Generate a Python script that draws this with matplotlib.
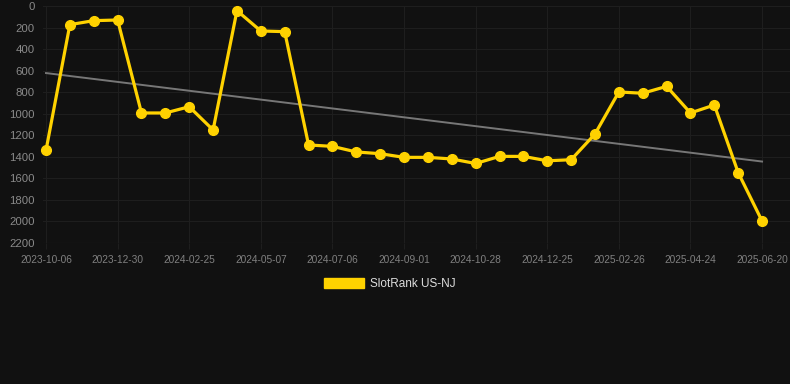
import numpy as np
import matplotlib
matplotlib.use("Agg")
import matplotlib.pyplot as plt
from matplotlib.patches import Patch

# SlotRank values (lower is better, axis inverted), one point per period
rank = [1340, 173, 136, 130, 993, 993, 935, 1151, 43, 232, 238,
        1290, 1303, 1355, 1371, 1405, 1405, 1420, 1462, 1396, 1396,
        1437, 1427, 1188, 798, 810, 746, 993, 919, 1547, 1996]
tick_labels = ["2023-10-06", "2023-12-30", "2024-02-25", "2024-05-07",
               "2024-07-06", "2024-09-01", "2024-10-28", "2024-12-25",
               "2025-02-26", "2025-04-24", "2025-06-20"]
series_name = "SlotRank US-NJ"

bg = "#111111"
gold = "#FFD200"
grid_c = "#1e1e1e"

plt.rcParams['font.family'] = ['Liberation Sans', 'DejaVu Sans']

fig = plt.figure(figsize=(7.9, 3.84), dpi=100, facecolor=bg)
ax = fig.add_axes([43/790, 1 - 243/384, 747/790, 237/384])
ax.set_facecolor(bg)

x = np.arange(len(rank))
# trend line (least squares fit)
k, b = np.polyfit(x, rank, 1)
ax.plot(x, k*x + b, color="#777777", lw=1.4, zorder=2)

ax.plot(x, rank, color=gold, lw=2.3, marker='o', markersize=7,
        zorder=3, clip_on=False)

ax.set_xlim(-0.126, 31.17)
ax.set_ylim(2200, 0)
ax.set_yticks(np.arange(0, 2201, 200))
ax.set_xticks(x[::3])
ax.set_xticklabels(tick_labels)

ax.grid(True, color=grid_c, lw=0.8)
ax.set_axisbelow(True)
for s in ax.spines.values():
    s.set_visible(False)
ax.axhline(2200, color="#2a2a2a", lw=0.8, zorder=1)

ax.tick_params(axis='y', colors="#8a8a8a", labelsize=8.2, length=0, pad=6)
ax.tick_params(axis='x', colors=grid_c, labelcolor="#808080",
               labelsize=7.3, length=4, pad=4.5)

leg = fig.legend(handles=[Patch(facecolor=gold, edgecolor=gold)],
                 labels=[series_name], loc='center',
                 bbox_to_anchor=(390/790, 1 - 284/384), frameon=False,
                 fontsize=8.5, handlelength=3.4, handleheight=0.9,
                 handletextpad=0.5, labelcolor="#dddddd")

fig.savefig("out.png", dpi=100, facecolor=bg)
